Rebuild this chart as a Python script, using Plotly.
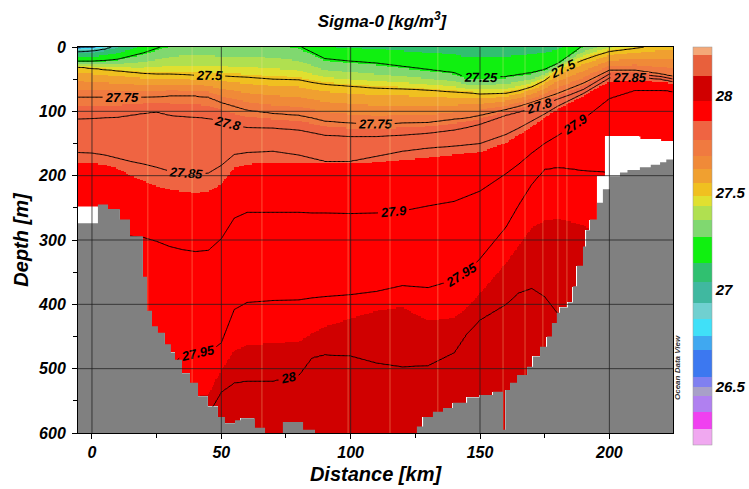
import numpy as np
import plotly.graph_objects as go

# ---------------- data ----------------
# distance nodes (km) at which the depth of each isopycnal was read
dist_km = [-5.5, 0, 5, 10, 15, 20, 25, 30, 35, 40, 45, 50, 55, 60, 70, 80, 85, 90, 100, 110,
           120, 130, 140, 145, 150, 160, 165, 170, 175, 180, 185, 190, 195, 200, 210, 220, 225]

# depth (m) of each sigma-0 surface at dist_km (negative = outcrops above the sea surface)
d_2675 = [2, 1, -3, -15, -30, -50, -60, -70, -80, -80, -80, -80, -80, -80, -80, -80, -80, -70, -60, -60,
          -60, -60, -60, -60, -60, -60, -60, -60, -60, -60, -70, -80, -90, -100, -100, -100, -100]
d_2700 = [7, 6, 3, -3, -10, -20, -30, -40, -40, -40, -40, -40, -40, -40, -40, -40, -35, -25, -25, -25,
          -25, -25, -25, -25, -25, -25, -25, -25, -25, -25, -30, -40, -50, -60, -60, -60, -60]
d_2725 = [22, 22, 21, 19, 14, 9, 2, -5, -10, -10, -10, -10, -10, -10, -10, -2, 8, 18, 22, 25,
          30, 35, 40, 48, 48, 46, 43, 40, 35, 26, 12, -3, -10, -15, -25, -30, -30]
d_2750 = [31, 33, 35, 37, 39, 41, 42, 42, 43, 44, 44, 45, 46, 47, 50, 51, 55, 58, 61, 64,
          65, 67, 70, 71, 73, 72, 68, 62, 52, 36, 28, 20, 13, 7, 2, -4, -6]
d_2775 = [78, 78, 78, 78, 78, 78, 77, 76, 76, 76, 78, 86, 92, 98, 103, 106, 110, 115, 118, 120,
          118, 117, 112, 110, 106, 97, 92, 86, 79, 72, 64, 56, 46, 36, 36, 42, 46]
d_2780 = [112, 111, 110, 109, 106, 103, 101, 106, 108, 109, 111, 115, 122, 125, 126, 129, 133, 137, 139, 139,
          137, 134, 129, 125, 120, 106, 101, 95, 89, 81, 74, 66, 54, 42, 42, 46, 50]
d_2785 = [164, 165, 168, 173, 178, 182, 187, 193, 196, 198, 196, 184, 167, 164, 162, 168, 173, 178, 178, 170,
          162, 157, 154, 152, 150, 136, 126, 115, 104, 92, 82, 72, 60, 48, 46, 50, 54]
d_27875 = [185, 185, 187, 193, 206, 215, 224, 229, 232, 234, 232, 221, 193, 187, 185, 184, 184, 183, 183, 182,
           179, 176, 171, 169, 167, 153, 140, 127, 112, 98, 88, 78, 66, 56, 54, 56, 58]
d_2790 = [300, 300, 298, 296, 294, 296, 302, 310, 315, 318, 316, 298, 266, 257, 257, 257, 258, 258, 259, 258,
          255, 247, 240, 232, 224, 197, 182, 165, 150, 138, 125, 112, 96, 80, 67, 67, 69]
d_2795 = [520, 520, 520, 520, 520, 520, 520, 500, 478, 477, 475, 460, 408, 397, 394, 393, 390, 388, 385, 380,
          371, 374, 362, 350, 329, 280, 245, 213, 190, 187, 189, 192, 193, 195, 197, 199, 200]
d_27975 = [560, 560, 560, 560, 560, 560, 560, 560, 560, 560, 556, 514, 489, 480, 478, 475, 460, 447, 432, 418,
           413, 439, 436, 420, 397, 351, 325, 299, 290, 287, 292, 299, 310, 320, 330, 340, 345]
d_2800 = [620, 620, 620, 620, 620, 620, 620, 620, 620, 620, 570, 536, 522, 519, 519, 510, 483, 478, 480, 491,
          497, 495, 475, 445, 424, 400, 382, 375, 388, 414, 440, 450, 460, 470, 480, 490, 500]

iso_levels = [26.75, 27.0, 27.25, 27.5, 27.75, 27.8, 27.85, 27.875, 27.9, 27.95, 27.975, 28.0]
iso_depths = [d_2675, d_2700, d_2725, d_2750, d_2775, d_2780, d_2785, d_27875, d_2790, d_2795, d_27975, d_2800]
top_anchor = (26.5, -300.0)      # value, depth far above the surface
bottom_anchor = (28.08, 1000.0)  # value, depth far below the section

# sea floor (grey), as steps: start distance (km) -> depth (m)
seabed_km = [-5.5, 2.3, 6.2, 10.8, 14.7, 19.7, 21.3, 23.2, 25.5, 28.2, 30.5, 32.1, 34.8, 37.9, 41.0,
             44.8, 48.7, 51.4, 55.3, 57.5, 63.0, 66.9, 73.8, 81.6, 86.2, 125.6, 128.0, 131.8, 135.7, 139.5,
             145.0, 150.0, 155.0, 158.9, 159.8, 161.6, 164.3, 168.2, 170.5, 173.2, 175.9, 177.8, 179.7, 180.9,
             184.0, 185.9, 187.5, 189.8, 191.0, 192.5, 195.2, 197.5, 200.2, 204.1, 207.0, 211.8, 216.0, 219.6, 222.0]
seabed_m = [274, 245, 252, 268, 294, 357, 410, 434, 444, 462, 475, 486, 507, 522, 543,
            559, 575, 585, 580, 577, 592, 600, 583, 595, 650, 590, 575, 567, 561, 553,
            545, 541, 536, 595, 533, 522, 510, 497, 481, 466, 450, 429, 413, 405,
            397, 372, 340, 310, 285, 268, 242, 221, 201, 195, 191, 187, 183, 179, 175]

# deepest sampled depth (white = no data above the sea floor)
floor_km = [-5.5, 2.3, 195.2, 198.3, 212.0, 220.0]
floor_m = [248, 700, 201, 139, 143, 146]

# station positions (km)
stations_km = [21.6, 38.7, 65.7, 99.0, 115.2, 133.7, 158.9, 167.4, 174.3, 180.1, 183.6]

# ODV colour bar bands
band_edges = [26.2, 26.28, 26.37, 26.45, 26.50, 26.55, 26.69, 26.76, 26.85, 26.93, 27.04, 27.14, 27.27,
              27.36, 27.43, 27.48, 27.55, 27.62, 27.69, 27.77, 27.87, 27.97, 28.10, 28.21, 28.25]
band_colors = ['#f0a8f0', '#f040f0', '#b080f0', '#a8a0c8', '#8080f0', '#3c78f0', '#40a8f0', '#40e0f8',
               '#70d0d0', '#40b8a0', '#30c070', '#10f010', '#80d870', '#b0e050', '#e0e030', '#f0c020',
               '#f0a030', '#f08a38', '#f07a40', '#ef6442', '#ff0000', '#d00000', '#e8603c', '#f4a878']
cbar_ticks = [26.5, 27.0, 27.5, 28.0]
cbar_text = ['26.5', '27', '27.5', '28']
x_ticks = [0, 50, 100, 150, 200]
y_ticks = [0, 100, 200, 300, 400, 500, 600]

# ---------------- build the gridded section ----------------
ZMIN, ZMAX = band_edges[0], band_edges[-1]
X0, X1 = -5.4, 224.6
xg = np.arange(-5.5, 224.8, 0.5)
yg = np.arange(0.0, 602.0, 2.0)

lev = np.array([top_anchor[0]] + iso_levels + [bottom_anchor[0]])
D = np.vstack([np.full(len(xg), top_anchor[1])]
              + [np.interp(xg, dist_km, d) for d in iso_depths]
              + [np.full(len(xg), bottom_anchor[1])])
D = np.maximum.accumulate(D, axis=0)
Z = np.empty((len(yg), len(xg)))
for i in range(len(xg)):
    Z[:, i] = np.interp(yg, D[:, i], lev)


def step(xs, edges, vals):
    idx = np.clip(np.searchsorted(edges, xs, side='right') - 1, 0, len(vals) - 1)
    return np.asarray(vals, float)[idx]


def step_polygon(edges, vals, x_end, base):
    xs, ys = [edges[0]], [base]
    for k, v in enumerate(vals):
        xa = edges[k]
        xb = edges[k + 1] if k + 1 < len(edges) else x_end
        v = min(v, base)
        xs += [xa, xb]
        ys += [v, v]
    xs.append(x_end)
    ys.append(base)
    return xs, ys


sea = step(xg, seabed_km, seabed_m)
flo = step(xg, floor_km, floor_m)
Y = yg[:, None]
Zd = np.where(Y > np.minimum(sea, flo)[None, :], np.nan, Z)

cs = []
for k, c in enumerate(band_colors):
    a = (band_edges[k] - ZMIN) / (ZMAX - ZMIN)
    b = (band_edges[k + 1] - ZMIN) / (ZMAX - ZMIN)
    cs.append([max(0.0, min(1.0, a)), c])
    cs.append([max(0.0, min(1.0, b)), c])

FONT = "Liberation Sans, Arial, sans-serif"


def bi(size, color="black"):
    return dict(family=FONT, size=size, color=color, weight="bold", style="italic")


# plot area in pixels: x 78..673, y 47..433
PL, PR, PT, PB = 78, 673, 47, 433
W, H = 749, 489

fig = go.Figure()
fig.add_trace(go.Heatmap(
    x=xg, y=yg, z=Zd, colorscale=cs, zmin=ZMIN, zmax=ZMAX, hoverinfo='skip',
    colorbar=dict(
        thickness=19, lenmode='pixels', len=398,
        x=(693 - PL) / (PR - PL), xanchor='left',
        y=(PB - 246) / (PB - PT), yanchor='middle',
        tickvals=cbar_ticks, ticktext=cbar_text,
        ticks='', tickfont=bi(15), outlinewidth=0.5, outlinecolor='#999999',
        ypad=0, xpad=0,
    ),
))

# contour line sets: (first level, last level, step). The ranges run beyond the data
# (levels that never occur draw nothing) so plotly spaces its labels more densely.
for start, end, size in [(20.0, 27.5, 0.25), (27.75, 30.0, 0.05)]:
    fig.add_trace(go.Contour(
        x=xg, y=yg, z=Z, showscale=False, hoverinfo='skip',
        contours=dict(start=start, end=end, size=size, coloring='none',
                      showlabels=True, labelfont=bi(13)),
        line=dict(color='black', width=1, smoothing=1.0),
    ))

# station lines
sx, sy = [], []
for s in stations_km:
    bottom = min(step(np.array([s]), seabed_km, seabed_m)[0], step(np.array([s]), floor_km, floor_m)[0])
    sx += [s, s, None]
    sy += [0, bottom, None]
fig.add_trace(go.Scatter(x=sx, y=sy, mode='lines', line=dict(color='rgba(255,230,150,0.35)', width=1),
                         hoverinfo='skip', showlegend=False))

# no-data (white) and sea floor (grey) drawn over the contour lines
wx, wy = step_polygon(floor_km, floor_m, 226.0, 620.0)
fig.add_trace(go.Scatter(x=wx, y=wy, mode='lines', fill='toself', fillcolor='white',
                         line=dict(width=0, color='white'), hoverinfo='skip', showlegend=False))
gx, gy = step_polygon(seabed_km, seabed_m, 226.0, 620.0)
fig.add_trace(go.Scatter(x=gx, y=gy, mode='lines', fill='toself', fillcolor='#808080',
                         line=dict(width=0, color='#808080'), hoverinfo='skip', showlegend=False))

shapes = []
for xv in x_ticks:
    shapes.append(dict(type='line', xref='x', yref='paper', x0=xv, x1=xv, y0=0, y1=1,
                       layer='above', line=dict(color='rgba(30,30,30,0.75)', width=1)))
for yv in y_ticks[1:-1]:
    shapes.append(dict(type='line', xref='paper', yref='y', x0=0, x1=1, y0=yv, y1=yv,
                       layer='above', line=dict(color='rgba(30,30,30,0.75)', width=1)))

fig.update_layout(
    width=W, height=H,
    margin=dict(l=PL, r=W - PR, t=PT, b=H - PB, pad=0, autoexpand=False),
    paper_bgcolor='white', plot_bgcolor='white',
    showlegend=False,
    title=dict(text='Sigma-0 [kg/m<sup>3</sup>]', x=382 / W, xref='container', xanchor='center',
               y=1 - 21 / H, yref='container', yanchor='middle', font=bi(17)),
    xaxis=dict(range=[X0, X1], tickvals=x_ticks, ticks='outside', ticklen=5, tickcolor='black',
               showgrid=False, zeroline=False, showline=True, mirror=True, linecolor='black', linewidth=1,
               tickfont=bi(16), layer='above traces',
               minor=dict(dtick=25, tick0=0, ticks='outside', ticklen=4, tickcolor='black', showgrid=False),
               title=dict(text='Distance [km]', font=bi(20), standoff=6)),
    yaxis=dict(range=[600, 0], tickvals=y_ticks, ticks='outside', ticklen=5, tickcolor='black',
               showgrid=False, zeroline=False, showline=True, mirror=True, linecolor='black', linewidth=1,
               tickfont=bi(16), layer='above traces', ticklabelstandoff=3,
               minor=dict(dtick=50, tick0=0, ticks='outside', ticklen=4, tickcolor='black', showgrid=False),
               title=dict(text='Depth [m]', font=bi(20), standoff=4)),
    shapes=shapes,
    annotations=[dict(text='Ocean Data View', xref='paper', yref='paper',
                      x=(684 - PL) / (PR - PL), y=(PB - 402) / (PB - PT), textangle=-90,
                      showarrow=False, font=bi(8, '#333333'))],
)

fig.write_html('out.html', config={'displayModeBar': False},
               post_script="document.body.style.margin='0px';document.body.style.padding='0px';"
                           "document.documentElement.style.overflow='hidden';")
